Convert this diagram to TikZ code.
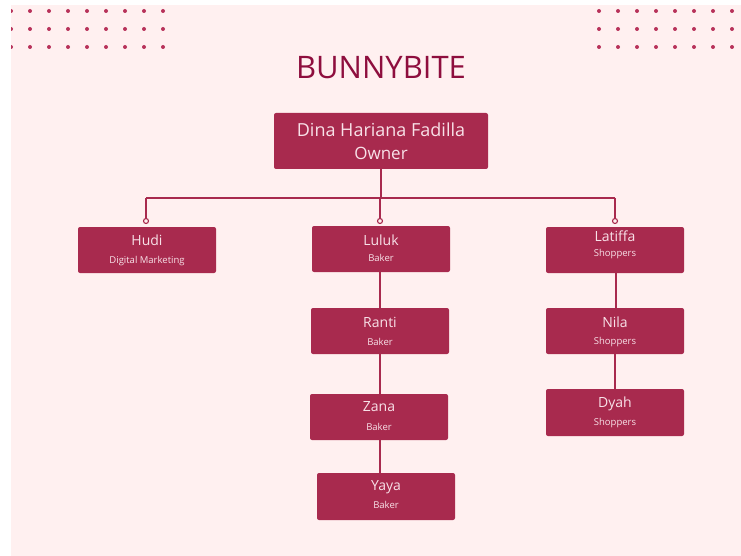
\documentclass[tikz,border=0pt]{standalone}
\usepackage{fontspec}
\setmainfont{Open Sans}
\definecolor{panel}{HTML}{FFF0F0}
\definecolor{boxc}{HTML}{A82A4E}
\definecolor{titlec}{HTML}{8E0E3E}
\definecolor{txtc}{HTML}{F8E1E8}
\definecolor{dotc}{HTML}{B8325A}
\tikzset{
  x=1pt, y=-1pt,
  person/.style={fill=boxc, rounded corners=2pt, minimum width=138pt, inner sep=0pt, text=txtc, align=center},
  link/.style={draw=boxc, line width=1.4pt},
  knob/.style={circle, draw=boxc, fill=panel, line width=1.1pt, inner sep=0pt, minimum size=5pt},
  namef/.style={font=\fontsize{14}{16}\selectfont},
  rolef/.style={font=\fontsize{9.5}{11}\selectfont},
}
\begin{document}
\begin{tikzpicture}
\useasboundingbox (0,0) rectangle (741,556);
\fill[white] (0,0) rectangle (741,556);
\fill[panel] (11,5) rectangle (741,556);
\begin{scope}
\clip (11,5) rectangle (741,556);
\foreach \yy in {11,29,47}{
  \foreach \xx in {11,30,49,68,87,106,125,144,163}{\fill[dotc] (\xx,\yy) circle (2);}
  \foreach \xx in {599,618,637,656,675,694,713,732}{\fill[dotc] (\xx,\yy) circle (2);}
}
\end{scope}
\node[text=titlec, font=\fontsize{31}{34}\selectfont] (title) at (381,68) {BUNNYBITE};

% boxes
\node[person, minimum width=214pt, minimum height=56pt] (owner) at (381,141) {};
\node[text=txtc, font=\fontsize{18}{21}\selectfont] (ownername) at (381,130) {Dina Hariana Fadilla};
\node[text=txtc, font=\fontsize{17}{20}\selectfont] (ownerrole) at (381,153) {Owner};

\node[person, minimum height=46pt] (hudi) at (147,250) {};
\node[person, minimum height=46pt] (luluk) at (381,249) {};
\node[person, minimum height=46pt] (latiffa) at (615,250) {};
\node[person, minimum height=46pt] (ranti) at (380,331) {};
\node[person, minimum height=46pt] (zana) at (379,417) {};
\node[person, minimum height=47pt] (yaya) at (386,496.5) {};
\node[person, minimum height=46pt] (nila) at (615,331) {};
\node[person, minimum height=47pt] (dyah) at (615,412.5) {};

\foreach \n/\x/\y/\t/\ry/\r in {hudi/147/240/Hudi/261/Digital Marketing, luluk/381/240/Luluk/258/Baker, latiffa/615/236/Latiffa/254/Shoppers, ranti/380/322/Ranti/342/Baker, zana/379/407/Zana/427/Baker, yaya/386/487/Yaya/505/Baker, nila/615/322/Nila/342/Shoppers, dyah/615/404/Dyah/423/Shoppers}{
  \node[text=txtc, namef] (\n-name) at (\x,\y) {\t};
  \node[text=txtc, rolef] (\n-role) at (\x,\ry) {\r};
}

% connectors
\coordinate (bus) at (381,198);
\coordinate (busl) at (146,198);
\coordinate (busr) at (615,198);
\coordinate (kh) at (146,221);
\coordinate (kl) at (380,221);
\coordinate (kr) at (615,221);
\draw[link] (owner.south -| bus) -- (bus);
\draw[link] (busl) -- (busr);
\draw[link] (busl) -- (kh);
\draw[link] (380,198) -- (kl);
\draw[link] (busr) -- (kr);
\node[knob] (knobh) at (kh) {};
\node[knob] (knobl) at (kl) {};
\node[knob] (knobr) at (kr) {};
\draw[link] (luluk.south -| kl) -- (ranti.north -| kl);
\draw[link] (ranti.south -| kl) -- (zana.north -| kl);
\draw[link] (zana.south -| kl) -- (yaya.north -| kl);
\draw[link] (latiffa.south -| 616,0) -- (nila.north -| 616,0);
\draw[link] (nila.south -| kr) -- (dyah.north -| kr);
\end{tikzpicture}
\end{document}
